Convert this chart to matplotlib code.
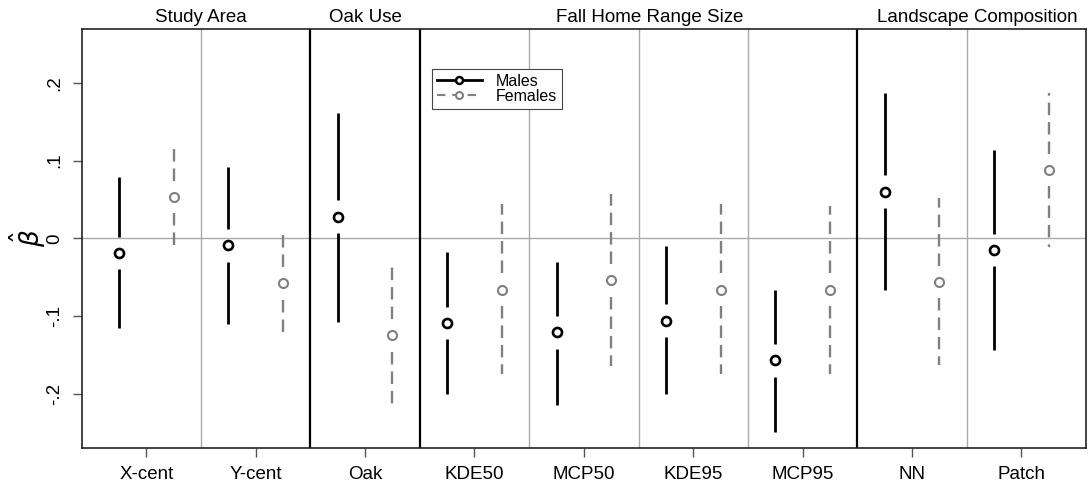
import matplotlib
matplotlib.use("Agg")
import matplotlib.pyplot as plt
from matplotlib.lines import Line2D
import numpy as np

plt.rcParams['font.family'] = ['Liberation Sans', 'DejaVu Sans']
plt.rcParams['lines.scale_dashes'] = False

categories = ["X-cent", "Y-cent", "Oak", "KDE50", "MCP50", "KDE95", "MCP95", "NN", "Patch"]
male_est = [-0.019, -0.009, 0.028, -0.109, -0.121, -0.106, -0.157, 0.060, -0.015]
male_lo = [-0.116, -0.110, -0.108, -0.201, -0.214, -0.201, -0.250, -0.066, -0.144]
male_hi = [0.079, 0.092, 0.162, -0.018, -0.031, -0.010, -0.067, 0.187, 0.114]
female_est = [0.053, -0.058, -0.125, -0.066, -0.054, -0.066, -0.066, -0.056, 0.088]
female_lo = [-0.015, -0.121, -0.216, -0.175, -0.165, -0.175, -0.175, -0.163, -0.011]
female_hi = [0.121, 0.005, -0.032, 0.044, 0.057, 0.044, 0.042, 0.052, 0.187]

group_titles = ["Study Area", "Oak Use", "Fall Home Range Size", "Landscape Composition"]
group_title_pos = [1.5, 3.0, 5.6, 8.6]
major_dividers = [2.5, 3.5, 7.5]
minor_dividers = [1.5, 4.5, 5.5, 6.5, 8.5]
yticks = [-0.2, -0.1, 0.0, 0.1, 0.2]
yticklabels = ["-.2", "-.1", "0", ".1", ".2"]

fig = plt.figure(figsize=(10.9, 4.88), dpi=100)
ax = fig.add_axes([0.075, 0.0826, 0.9213, 0.858])

x = np.arange(1, len(categories) + 1)
off = 0.25
gap = 0.021
grey = "#808080"

ax.axhline(0, color="#aaaaaa", lw=1.0, zorder=1)
for d in minor_dividers:
    ax.axvline(d, color="#aaaaaa", lw=1.0, zorder=1)
for d in major_dividers:
    ax.axvline(d, color="black", lw=1.6, zorder=1)

for xi, e, lo, hi in zip(x - off, male_est, male_lo, male_hi):
    ax.plot([xi, xi], [lo, e - gap], color="black", lw=2.0, solid_capstyle="butt", zorder=2)
    ax.plot([xi, xi], [e + gap, hi], color="black", lw=2.0, solid_capstyle="butt", zorder=2)
ax.plot(x - off, male_est, "o", mfc="white", mec="black", ms=6.5, mew=1.9, ls="none", zorder=3)

for xi, e, lo, hi in zip(x + off, female_est, female_lo, female_hi):
    ax.plot([xi, xi], [e + gap, hi], color=grey, lw=1.7, dashes=(9, 5), dash_capstyle="butt", zorder=2)
    ax.plot([xi, xi], [e - gap, lo], color=grey, lw=1.7, dashes=(9, 5), dash_capstyle="butt", zorder=2)
ax.plot(x + off, female_est, "o", mfc="white", mec=grey, ms=6.5, mew=1.5, ls="none", zorder=3)

ax.set_xlim(0.41, 9.59)
ax.set_ylim(-0.2696, 0.2696)
ax.set_xticks(x)
ax.set_xticklabels(categories, fontsize=13.5)
ax.set_yticks(yticks)
ax.set_yticklabels(yticklabels, fontsize=13.5, rotation=90, va="center")
ax.tick_params(axis="both", direction="out", length=6.5, width=1.0, color="#555555")
ax.tick_params(axis="x", pad=7)
ax.tick_params(axis="y", pad=7)
for s in ax.spines.values():
    s.set_linewidth(1.2)
    s.set_color("#222222")

ax.set_ylabel(r"$\hat{\beta}$", fontsize=19, va="center", ha="center")
ax.yaxis.set_label_coords(-0.054, 0.50)

for t, p in zip(group_titles, group_title_pos):
    ax.text(p, 1.0 + 0.027, t, transform=ax.get_xaxis_transform(), ha="center", va="center", fontsize=13.5)

handles = [
    Line2D([], [], color="black", lw=2.0, marker="o", mfc="white", mec="black", ms=5, mew=1.8),
    Line2D([], [], color=grey, lw=1.5, dashes=(6, 5), marker="o", mfc="white", mec=grey, ms=5, mew=1.5),
]
leg = ax.legend(handles, ["Males", "Females"], loc="upper left", bbox_to_anchor=(0.349, 0.9045),
                borderaxespad=0, fontsize=11.5, frameon=True, fancybox=False, framealpha=1,
                edgecolor="#444444", handlelength=2.8, labelspacing=0.0, borderpad=0.3,
                handletextpad=0.9)
leg.get_frame().set_linewidth(0.8)

fig.savefig("out.png", dpi=100)
